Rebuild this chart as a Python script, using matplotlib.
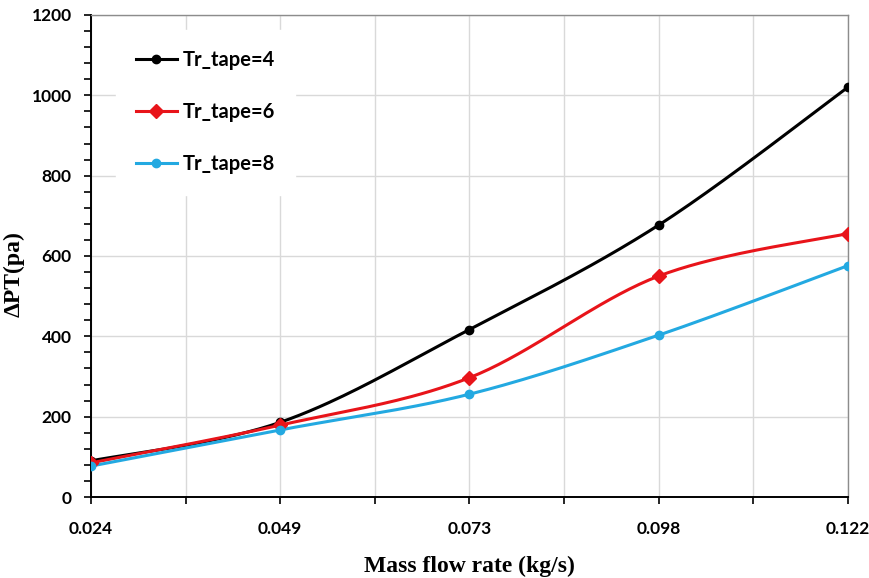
import numpy as np
import matplotlib
matplotlib.use("Agg")
import matplotlib.pyplot as plt
from matplotlib.ticker import MultipleLocator, FixedLocator

# Mass flow rate categories (kg/s) and pressure drop values (Pa)
flow_labels = ["0.024", "0.049", "0.073", "0.098", "0.122"]
dp_tr4 = [90, 186, 417, 677, 1020]
dp_tr6 = [85, 179, 297, 550, 656]
dp_tr8 = [77, 167, 256, 403, 576]
series_names = ["Tr_tape=4", "Tr_tape=6", "Tr_tape=8"]


def smooth(xs, ys, n=40):
    """Smooth curve through points using cubic Bezier segments (Catmull-Rom style)."""
    p = np.column_stack([xs, ys]).astype(float)
    ext = np.vstack([p[0], p, p[-1]])
    out = []
    t = np.linspace(0, 1, n)[:, None]
    for i in range(len(p) - 1):
        p0, p1, p2, p3 = ext[i], ext[i + 1], ext[i + 2], ext[i + 3]
        c1 = p1 + (p2 - p0) / 6.0
        c2 = p2 - (p3 - p1) / 6.0
        seg = ((1 - t) ** 3) * p1 + 3 * ((1 - t) ** 2) * t * c1 + 3 * (1 - t) * t ** 2 * c2 + t ** 3 * p2
        out.append(seg if i == 0 else seg[1:])
    out = np.vstack(out)
    return out[:, 0], out[:, 1]


fig = plt.figure(figsize=(8.7, 5.78), dpi=100)
ax = fig.add_axes([0.1046, 0.1401, 0.870, 0.834])

x = np.arange(len(flow_labels))
styles = [
    (dp_tr4, "#000000", "o", 6),
    (dp_tr6, "#e8141a", "D", 7.5),
    (dp_tr8, "#23a9e1", "o", 6),
]
for (vals, col, mk, ms), name in zip(styles, series_names):
    sx, sy = smooth(x, vals)
    ax.plot(sx, sy, color=col, lw=2.2, zorder=3)
    ax.plot(x, vals, ls="none", marker=mk, ms=ms, color=col, zorder=4)
    ax.plot([], [], color=col, lw=2.2, marker=mk, ms=ms, label=name)

ax.set_xlim(0, len(flow_labels) - 1)
ax.set_ylim(0, 1200)
ax.xaxis.set_major_locator(FixedLocator(x))
ax.xaxis.set_minor_locator(MultipleLocator(0.5))
ax.set_xticklabels(flow_labels)
ax.yaxis.set_major_locator(MultipleLocator(200))
ax.yaxis.set_minor_locator(MultipleLocator(40))

ax.grid(True, which="major", color="#d9d9d9", lw=1.0, zorder=0)
ax.grid(True, which="minor", axis="x", color="#d9d9d9", lw=1.0, zorder=0)
ax.set_axisbelow(True)

ax.tick_params(axis="both", which="both", direction="out", length=5, width=1.2, color="black")
ax.tick_params(axis="x", which="major", pad=12)
ax.tick_params(axis="y", which="major", pad=9)
for lab in ax.get_xticklabels() + ax.get_yticklabels():
    lab.set_fontfamily("Lato")
    lab.set_fontweight("bold")
    lab.set_fontsize(12.5)

for side in ("left", "bottom"):
    ax.spines[side].set_color("black")
    ax.spines[side].set_linewidth(1.4)
for side in ("top", "right"):
    ax.spines[side].set_color("#8c8c8c")
    ax.spines[side].set_linewidth(1.0)

ax.set_xlabel("Mass flow rate (kg/s)", fontfamily="Liberation Serif", fontweight="bold",
              fontsize=17, labelpad=14)
ax.set_ylabel("ΔPT(pa)", fontfamily="Liberation Serif", fontweight="bold", fontsize=17)
ax.yaxis.set_label_coords(-0.088, 0.463)

leg = ax.legend(loc="upper left", bbox_to_anchor=(0.02, 0.99), frameon=True, fancybox=False,
                edgecolor="white", facecolor="white", framealpha=1.0,
                prop={"family": "Lato", "weight": "bold", "size": 14.5},
                labelspacing=1.6, handlelength=2.0, handletextpad=0.3, borderpad=1.0)
leg.set_zorder(5)

fig.savefig("out.png", dpi=100)
